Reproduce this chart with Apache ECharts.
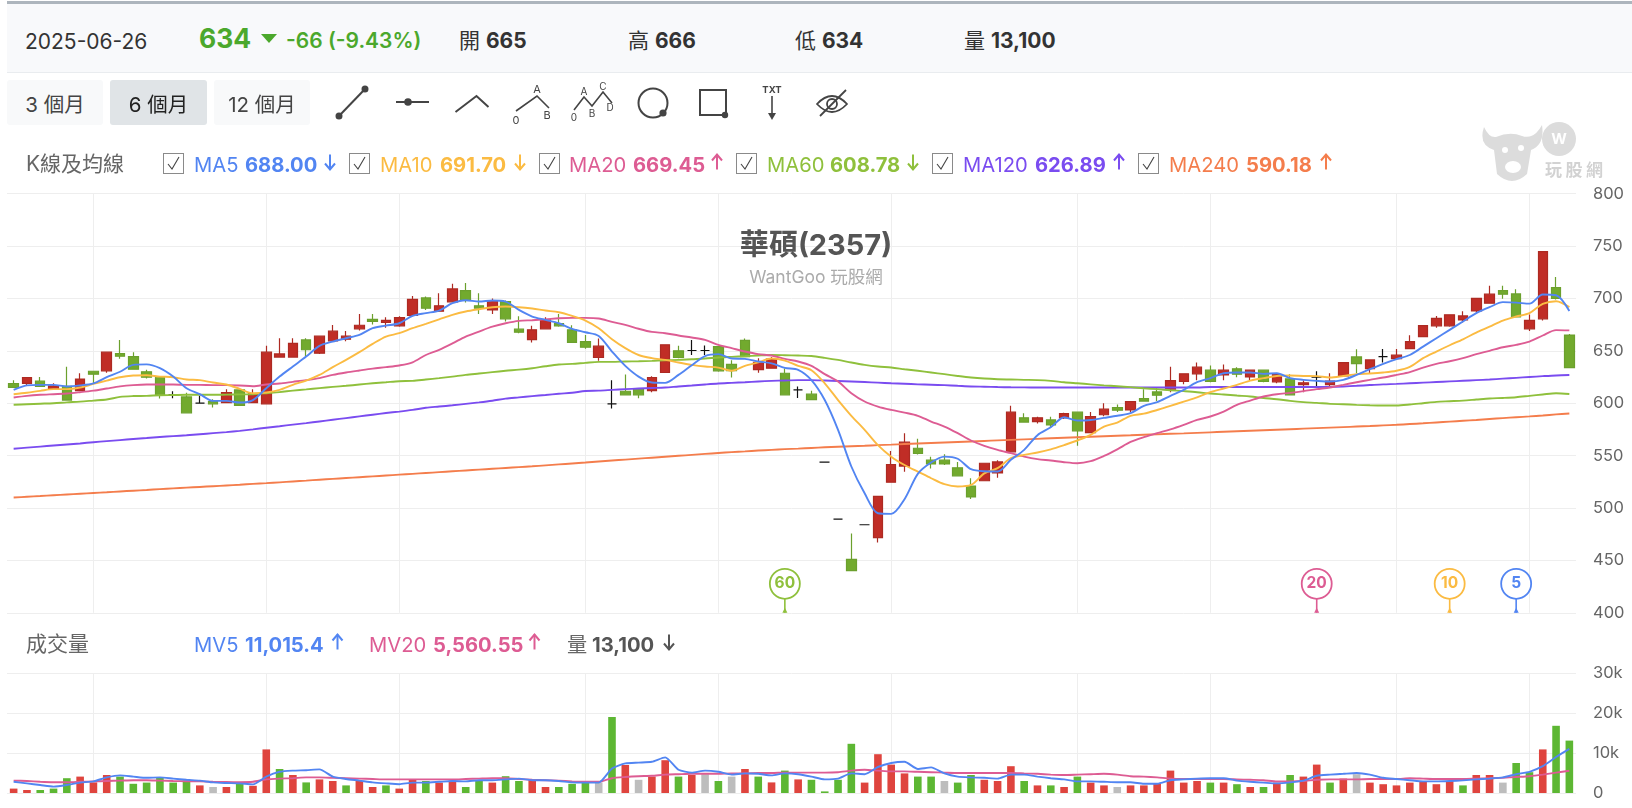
<!DOCTYPE html>
<html lang="zh-Hant">
<head>
<meta charset="utf-8">
<title>華碩(2357) K線</title>
<script src="https://cdn.jsdelivr.net/npm/echarts@6/dist/echarts.min.js"></script>
<style>
  html, body { margin: 0; padding: 0; background: #fff; width: 1632px; height: 808px; overflow: hidden; }
  body, text { font-family: Inter, "Noto Sans CJK TC", sans-serif; }
  #chart { position: absolute; left: 0; top: 0; width: 1632px; height: 808px; }
  .topbar { position: absolute; left: 7px; right: 0; top: 1px; height: 3px; background: #adb5bd; }
  .panel { position: absolute; left: 7px; right: 0; top: 4px; height: 68px; background: #f8f9fb; border-bottom: 1px solid #e9ecef; }
  .t { position: absolute; white-space: nowrap; line-height: 1; transform: translateY(-50%); }
  .btn { position: absolute; top: 80px; height: 45px; line-height: 50px; text-align: center; background: #f8f9fa; border-radius: 3px; font-size: 20.5px; color: #444; }
  .btn.on { background: #e0e4e7; color: #222; }
  .box { position: absolute; top: 153px; width: 19px; height: 19px; border: 1px solid #8a8a8a; background: #fff; }
  b { font-weight: 700; }
  svg { position: absolute; overflow: visible; left: 0; top: 0; }
</style>
</head>
<body>
<div id="chart"></div>
<div class="topbar"></div>
<div class="panel"></div>

<div class="t" style="left:25px;top:41px;font-size:21px;color:#333">2025-06-26</div>
<div class="t" style="left:199px;top:38px;font-size:26.5px;font-weight:700;color:#4ba82c">634</div>
<div class="t" style="left:286px;top:40px;font-size:21px;font-weight:600;color:#4ba82c">-66 (-9.43%)</div>
<div class="t" style="left:459px;top:40px;font-size:21px;color:#333">開 <b>665</b></div>
<div class="t" style="left:628px;top:40px;font-size:21px;color:#333">高 <b>666</b></div>
<div class="t" style="left:795px;top:40px;font-size:21px;color:#333">低 <b>634</b></div>
<div class="t" style="left:964px;top:40px;font-size:21px;color:#333">量 <b>13,100</b></div>

<div class="btn" style="left:7px;width:96px">3 個月</div>
<div class="btn on" style="left:110px;width:97px">6 個月</div>
<div class="btn" style="left:214px;width:96px">12 個月</div>

<svg width="1632" height="200" fill="none" stroke="#444" stroke-width="2">
  <!-- triangle beside the change figure -->
  <polygon points="261,34 277,34 269,43" fill="#4ba82c" stroke="none"/>
  <!-- drawing tools -->
  <line x1="339" y1="116" x2="365" y2="89"/><circle cx="339" cy="116" r="2.5" fill="#444"/><circle cx="365" cy="89" r="2.5" fill="#444"/>
  <line x1="396" y1="102" x2="429" y2="102"/><circle cx="408" cy="102" r="2.8" fill="#444"/>
  <polyline points="455.5,112 476.5,96 488.5,107"/>
  <polyline points="516,111 537,96 549,108" stroke-width="1.6"/>
  <polyline points="574,110 584,97 592,106 603,92 612,103" stroke-width="1.6"/>
  <circle cx="653" cy="103" r="14.5"/><circle cx="663" cy="113" r="2.6" fill="#444"/>
  <rect x="700" y="90" width="26" height="25"/><circle cx="725" cy="115" r="2.2" fill="#444"/>
  <line x1="772" y1="96" x2="772" y2="118" stroke-width="1.6"/><polygon points="768,113 776,113 772,120" fill="#444" stroke="none"/>
  <!-- hide-all eye -->
  <path d="M817 104 Q832 88 847 104 Q832 120 817 104Z" stroke-width="1.8"/>
  <circle cx="832" cy="104" r="5" stroke-width="1.8"/>
  <line x1="820" y1="116" x2="846" y2="90" stroke-width="1.8"/>
  <g fill="#444" stroke="none" font-size="11" font-family="Inter, sans-serif">
    <text x="537" y="93" text-anchor="middle" font-size="11">A</text>
    <text x="516" y="124" text-anchor="middle">0</text>
    <text x="547" y="119" text-anchor="middle">B</text>
    <text x="574" y="121" font-size="10" text-anchor="middle">0</text>
    <text x="584" y="95" font-size="10" text-anchor="middle">A</text>
    <text x="592" y="117" font-size="10" text-anchor="middle">B</text>
    <text x="603" y="90" font-size="10" text-anchor="middle">C</text>
    <text x="610" y="111" font-size="10" text-anchor="middle">D</text>
    <text x="772" y="93" font-size="9.5" font-weight="700" text-anchor="middle">TXT</text>
  </g>
  <!-- WantGoo watermark -->
  <g fill="#dcdcdc" stroke="none">
    <circle cx="1559" cy="139" r="17"/>
    <path d="M1484 127 Q1478 145 1494 150 L1497 174 Q1512 188 1527 174 L1531 150 Q1545 145 1542 125 Q1534 140 1522 136 Q1510 131 1496 137 Q1489 138 1484 127Z"/>
  </g>
  <g fill="#fff" stroke="none">
    <circle cx="1505" cy="150" r="3"/><circle cx="1521" cy="148" r="3"/>
    <ellipse cx="1513" cy="167" rx="8" ry="6"/>
  </g>
  <text x="1559" y="144" fill="#fff" stroke="none" font-size="15" font-weight="700" text-anchor="middle">W</text>
</svg>
<div class="t" style="left:1545px;top:170px;font-size:17px;letter-spacing:3.5px;color:#d2d2d2;font-weight:700">玩股網</div>

<div class="t" style="left:26px;top:163px;font-size:21px;color:#666">K線及均線</div>
<div id="maLegend"></div>
<div class="t" style="left:26px;top:643px;font-size:21px;color:#666">成交量</div>
<div id="volLegend"></div>

<script>
// Trading-day columns and the bars where a vertical rule is drawn.
const dayIndex = Array.from({ length: 118 }, (_, i) => i);
const ruleDays = [6, 19, 29, 43, 53, 66, 80, 90, 104, 114];

const opens = [618.8,619,621,613.7,616,612,630.5,630.9,647.4,644.5,
  630,624.8,608,606,600,601.6,600.6,612.7,600.6,599.4,
  644,644,660.4,647.7,659.5,661,671,680,677,673.8,
  683.7,700.5,687.8,696.7,707.5,693,689,697,670.6,660.7,
  671,676,670,658.8,643.6,599.4,611.4,613.4,612,629.3,
  650,650.3,650.3,654,637,660,632,633.4,628.6,612.7,
  608.6,543.7,489.3,451,484,471.8,524.6,540,557,545.6,
  545.6,538.3,521,526,533.5,553.6,586,582.5,584,586,
  591.4,572,589,595.9,593.6,604.5,610.8,613.4,620.7,628,
  631.5,627,632.8,625,631.5,620.4,623.2,617.8,624.8,617.8,
  626,644.2,633,644.5,642.6,652,663.6,673.8,673.8,679.5,
  688,695.4,707.5,704.3,671,680.5,710.4,665];
const closes = [615,624.5,616,616.5,603,623,627.7,648.7,644.8,632.4,
  624.8,607.6,608,590.8,600,599.4,610,598,609,648.7,
  647,657,651,664,668.7,664,674.4,678,679,681.7,
  699,690.6,693,709,698,690.6,698,680.5,667.7,670,
  679.5,673.8,658,653.4,654.4,599.4,608,608,624.5,655.7,
  643.6,650.3,650.3,630.9,631,644.5,639,642,608,612.7,
  603.5,543.7,489.3,440.3,484,511,541.5,562.8,552,542,
  542,530.7,510.6,542.7,544,591.4,582,586,579.3,590,
  573.6,587.3,594.3,593.3,601.6,602,607.6,621.6,628,634.4,
  620.7,631.5,627.7,631.5,620.7,627.4,608,619.4,624.8,621,
  638.8,637.8,641.3,644.5,645.8,658.8,674,681,684.3,683.3,
  700,704,704,682.4,679,744.7,700,634];
const highs = [622,624.5,625,619,634.7,628.6,631,649,660.4,648.7,
  631.8,625,611.5,610,607,603.8,613.4,613,613.4,654.7,
  662,662,662,664.5,674.7,669,685,685,682,683,
  702.4,701.8,705,713.9,714.8,705,700,698,683,673.8,
  682,685,674.4,665,661.7,622,627.4,613.4,625.8,656,
  654.7,660.4,655,654,641,661.7,643,644,633,616,
  611.8,543.7,489.3,475.6,484,511,554.5,571.4,566,548.8,
  551.3,544,528.4,543,545.6,597.5,590.5,587,587,591,
  592,591.7,600,598.7,601.6,613.4,615.3,634.7,628.6,638.8,
  636,637,634.4,632,632,628,627.7,622,630.5,628.6,
  639,651.5,642,651.8,651.8,664.9,674.2,683.3,684.6,687.8,
  700,712,712,708.8,684.6,745,720.5,666];
const lows = [615,617,616,613,603,612,619,629,642.3,632,
  623.5,604.5,604.8,590.8,600,596,600,598,600,599,
  644,644,645,647,659,659,669.3,675,672,673,
  683,689,687,696,696,685,685,678,666.8,658,
  671,673,658,652,640.4,595,608,604.8,610.5,629,
  643,646,646,630,624.5,644,629,633,608,605,
  603,543.7,489.3,440,484,467,524,534.5,551,537.7,
  541,530,508.7,526,528.8,553,582,580.6,576.8,585,
  559.3,572,587.6,591.7,591.4,602,602,610.5,618,622,
  620,622,624.8,622,620,619,607.5,610.5,615,616,
  626,628.6,628.6,638.8,642,652,663,671.9,673,677,
  686,695,699.6,682,669,679,699,634];

const ma5 = [612.7,617,617.5,617.5,616,617,619,624.8,630,636.6,
  637,633.4,625.4,614.3,608.6,602.2,602.2,600.6,603,614.3,
  625.4,635,644.5,654.7,658.8,662,665.2,671.6,674,676.3,
  683.3,686,688.4,695.4,698.3,697,698,697,689,682.7,
  679.5,676.3,671,667.7,664.2,649.3,635.6,625.4,619.7,619.4,
  627,636.3,645,646.8,642.6,642.3,639.8,638,633.7,631.8,
  622,603,574.6,539.6,514,495,494.4,508.4,532.6,543.4,
  549,547,537,535,534.8,546,555.5,569.5,577,586.6,
  583.5,584,586,588,590.5,597.5,601,607,612.7,620,
  623.9,628.6,629.3,629.3,628,628.6,623.9,622.3,621.3,620.7,
  622.3,627,632.4,637.5,642,646,654,662,670,678,
  685.9,691.6,696.4,696,695,703.7,703,688];
const ma10 = [608.6,610,611.8,613.4,613.4,615,618.4,621.6,624.8,626.4,
  626.7,625.4,624.8,622.6,622,619.7,617.8,613.7,609.5,610.2,
  612.7,617.5,621.6,627,634.4,641.3,648.7,656.6,663.6,666.8,
  671.6,675.7,680,684.3,687.5,689.7,691.6,692.2,691.6,690.3,
  688.4,686.8,683.3,678.9,671.6,661,652.5,646,643,641.3,
  638.8,636.6,635,634,631,635.6,639,642.6,640.7,635.6,
  631.5,619,603,588,574.6,560,549,541,534.8,528.4,
  522.7,520.5,522,533,538,547.5,550.7,553,556,560,
  564.4,569.8,577.7,581.5,588,590,593.5,597.5,601.5,605.5,
  610.5,614,617.5,621.6,623.9,626,626.4,626,625.8,624.5,
  626,627.7,628.3,629.3,631,634.7,643,649.3,655.3,661,
  667.4,673,678.9,682.7,685.9,694.8,697.3,691.7];
const ma20 = [605.4,607,608,608.6,609.2,610.5,612,614,616,617.2,
  617.8,617.8,617.8,617.5,617.5,617.2,617.2,616.9,616.2,617.8,
  618.8,620.4,622,623.9,627,629.3,631.2,633,634.4,636,
  639,646,650.9,657,663.6,668.4,673,676.3,678.6,679.2,
  680,681,681.4,681.4,680.8,677.6,674.7,671,668,666.8,
  664.6,662.7,660.4,655.7,652.5,649.3,646.8,645.5,642.3,639.8,
  635.6,627.7,620.7,609.5,601.6,596.8,593.6,591,588,582.5,
  577.7,571.4,564.4,559.3,555.5,552.3,549,546.6,545.3,543.7,
  542.7,544.7,549.7,556,563,567.6,571.4,575,579.3,584,
  587.3,592,598.4,602.5,606.4,608.6,609.9,611.5,613.4,615,
  617.5,620,622.3,624.5,627,629.6,634,637.5,640,643,
  646.8,650,653.4,655.7,658.8,664.6,669.7,669.45];
const ma60 = [598.5,599,599.5,600,600.8,601.5,602.5,603.5,606,606.8,
  607,607.6,607.8,608,608,608,608.2,608.4,608.6,609.5,
  610.6,612,613.2,614.4,615.6,616.6,617.8,619,620,621,
  621.3,622.6,623.9,625.4,627,628.3,629.6,630.9,632,633.4,
  635.3,636.9,637.5,638.5,639.4,639.4,639.8,640,640.4,641,
  641.3,642,642.6,643.6,644.2,644.8,645.5,646,645.8,645.5,
  645,643.3,641.3,638.8,636.6,635,634,632.4,630.9,629.3,
  627.7,626,624.5,623.5,622.9,622.6,622.3,622,621.3,620,
  619,618,617,616.2,615.3,614.3,613.4,612.4,611.5,610.5,
  609.2,608.3,607.3,606.4,605,603.8,602.2,601,600.3,599.4,
  599,598.4,598,597.8,597.8,598.7,600,601.3,601.9,602.5,
  603.5,604.5,605,605.7,607,608.3,609.5,608.78];
const ma120 = [556.5,557.6,558.6,559.6,560.6,561.6,562.8,563.8,564.8,565.8,
  566.8,567.8,568.6,569.4,570.4,571.4,572.4,573.6,575,576.6,
  578,579.6,581,582.6,584.2,585.8,587.4,589,590.6,592,
  593.6,595.6,596.8,598,599.4,600.8,602.4,604.4,605.6,606.8,
  607.8,609,610,611.6,612,612.7,613.4,614,614.5,615,
  616,616.9,617.9,618.8,619.4,620,620.7,621.3,621.7,622,
  622,621.6,621.2,620.7,620.2,619.6,619,618.6,618,617.6,
  617.2,616.6,616,615.7,615.4,615.2,615.1,615,615,615,
  615,615,615,615,615,615,615,615,615,615,
  615.4,615.4,615.5,615.5,615.5,615.5,615.5,615.5,615.5,615.6,
  616,616.6,617.3,618,618.4,619,619.6,620.2,620.8,621.4,
  622,622.6,623.4,624.2,625,625.8,626.5,626.89];
const ma240 = [510,510.7,511.4,512.2,512.9,513.6,514.3,515,515.8,516.5,
  517.2,518,518.7,519.4,520.1,520.8,521.5,522.2,523,523.7,
  524.5,525.3,526.1,527,527.8,528.6,529.4,530.2,531,531.8,
  532.6,533.4,534.2,535,535.8,536.6,537.4,538.2,539,539.8,
  540.7,541.6,542.5,543.4,544.4,545.3,546.2,547.1,548,548.9,
  549.8,550.7,551.6,552.5,553.3,554,554.8,555.5,556.2,556.7,
  557.3,557.9,558.4,558.9,559.4,560,560.5,561,561.5,562,
  562.5,563,563.5,564,564.5,565,565.5,566,566.5,567,
  567.5,568,568.5,569,569.4,569.9,570.3,570.8,571.2,571.7,
  572.2,572.7,573.2,573.7,574.2,574.7,575.2,575.7,576.2,576.7,
  577.2,577.7,578.2,578.8,579.4,580.1,580.8,581.6,582.4,583.2,
  584,584.9,585.8,586.6,587.4,588.3,589.3,590.18];

const volumes = [1100,750,750,1100,3700,4100,2650,4500,4100,2300,
  2600,3900,2600,3100,1900,1500,1500,2400,1800,10900,
  6000,4500,2650,3400,3000,1900,3000,1500,1900,1100,
  3400,3000,2600,3100,1500,3000,2600,4200,3000,3400,
  1500,1500,2300,2650,2650,19000,7000,3300,4100,8200,
  4100,4500,4700,3000,4100,6000,4100,2650,5600,3400,
  3300,400,3300,12300,2600,9700,7100,4900,4100,4100,
  3000,2600,4500,3300,3000,6700,3000,1900,1900,1500,
  4100,2600,1900,1500,1900,1900,2400,5600,2600,3000,
  2600,2600,2200,1500,1500,2600,4500,4100,7100,2600,
  3600,4700,2600,2200,1900,2600,3000,2200,3000,1900,
  4500,4500,2600,7500,5200,10900,16800,13100];
// r = up day, g = down day, n = unchanged
const volumeTones = ('rrgggrrrgggggg' + 'rnrgrrgrgrrgrrgrrgrrggrggrrg' +
  'ggngrnrrgrngnrgrgrgggg' + 'rrrrggnggrrrgrgrgrrnrrrrrr' +
  'grgrgrgrrgrnrrrrrrrgrrnggrgg').split('');
const mv5 = [2800,2400,2000,1600,2000,2600,2900,3900,4400,4100,
  3800,3900,3600,3300,3100,2650,2500,2400,2150,4100,
  5300,5600,5700,5900,4100,3500,3100,2650,2400,2200,
  2600,2600,2800,3000,2900,3200,3200,3400,3600,3200,
  3200,3000,2650,2600,2600,6100,7400,7600,7800,8900,
  5800,5100,5600,5300,4600,4900,4800,4400,4900,4700,
  4100,3400,3600,4900,4700,6500,7500,7800,6000,6400,
  4900,4100,3900,3800,3600,4600,4600,4100,3700,3400,
  2900,2900,2800,2700,2700,2300,2300,3200,3400,3600,
  3700,3700,3100,2800,2600,2400,2650,3100,4300,4600,
  4800,5000,4600,3800,3500,3200,2900,2900,3000,3150,
  3400,3600,3900,4700,5300,6700,9000,11015.4];
const mv20 = [3100,3000,2800,2700,2700,2800,2900,3000,3100,3200,
  3200,3100,3000,2950,2900,2800,2750,2700,2800,3400,
  3600,3700,3900,3900,3800,3700,3600,3500,3400,3400,
  3400,3400,3400,3400,3500,3600,3700,3700,3500,3300,
  3200,3100,2900,2800,2800,3700,4000,4200,4300,4600,
  4700,4800,4800,4800,4900,4900,5000,5000,5100,5100,
  5100,5100,5200,5600,5800,5600,5400,5400,5300,5200,
  5100,5000,5000,5000,5000,5000,4900,4800,4600,4500,
  4600,4700,4800,4600,4200,4100,3900,3600,3500,3500,
  3500,3500,3400,3300,3200,2900,2900,3000,3300,3400,
  3400,3400,3500,3500,3500,3700,3600,3500,3500,3500,
  3600,3700,3800,4000,4200,4600,5100,5560.55];

// Round pins that mark where each average's window starts.
const pinBars = [58, 98, 108, 113];
const pinLabels = ['60', '20', '10', '5'];

const BLUE = '#5285f2', AMBER = '#fbbb42', PINK = '#dd5c93', LEAF = '#8fc03c', VIOLET = '#7a4cf0', CORAL = '#f47d4c';
const pinColors = [LEAF, PINK, AMBER, BLUE];
const toneColors = { r: '#df443e', g: '#5db733', n: '#bdbdbd' };

// Legend rows: the figures always come from the last point of each series.
const last = a => a[a.length - 1];
const legendSpot = (x, txt, size, color, weight) =>
  `<div class="t" style="left:${x}px;top:${size.top}px;font-size:${size.fs}px;color:${color};font-weight:${weight}">${txt}</div>`;
// Trend arrow with a narrow head, centred on cx.
const trendArrow = (cx, cy, up, color) => {
  const a = up ? cy - 7.5 : cy + 7.5, b = up ? cy + 7.5 : cy - 7.5, h = up ? a + 6 : a - 6;
  return `<svg width="1" height="1" fill="none" stroke="${color}" stroke-width="2"><line x1="${cx}" y1="${a}" x2="${cx}" y2="${b}"/><polyline points="${cx - 5},${h} ${cx},${a} ${cx + 5},${h}"/></svg>`;
};
const maRow = [
  { box: 163, x: 194, vx: 245, ax: 330, name: 'MA5',   arr: ma5,   up: false, c: BLUE },
  { box: 349, x: 380, vx: 440, ax: 520, name: 'MA10',  arr: ma10,  up: false, c: AMBER },
  { box: 539, x: 569, vx: 633, ax: 717, name: 'MA20',  arr: ma20,  up: true,  c: PINK },
  { box: 736, x: 767, vx: 830, ax: 913, name: 'MA60',  arr: ma60,  up: false, c: LEAF },
  { box: 932, x: 963, vx: 1035, ax: 1119, name: 'MA120', arr: ma120, up: true,  c: VIOLET },
  { box: 1138, x: 1169, vx: 1246, ax: 1326, name: 'MA240', arr: ma240, up: true,  c: CORAL }
];
const maSize = { top: 165, fs: 20.2 };
document.getElementById('maLegend').innerHTML = maRow.map(m =>
  `<div class="box" style="left:${m.box}px"><svg width="19" height="19" fill="none" stroke="#444" stroke-width="1.1"><polyline points="4,10 8,15 15,3"/></svg></div>` +
  legendSpot(m.x, m.name, maSize, m.c, 400) +
  legendSpot(m.vx, last(m.arr).toFixed(2), maSize, m.c, 700) +
  trendArrow(m.ax, 162, m.up, m.c)
).join('');
const volSize = { top: 645, fs: 20.2 };
const fmtVol = (v, d) => v.toLocaleString('en-US', { minimumFractionDigits: d, maximumFractionDigits: d });
document.getElementById('volLegend').innerHTML =
  legendSpot(194, 'MV5', volSize, BLUE, 400) + legendSpot(245, fmtVol(last(mv5), 1), volSize, BLUE, 700) + trendArrow(337.5, 642, true, BLUE) +
  legendSpot(369, 'MV20', volSize, PINK, 400) + legendSpot(433, fmtVol(last(mv20), 2), volSize, PINK, 700) + trendArrow(534.5, 642, true, PINK) +
  legendSpot(567, '量', volSize, '#666', 400) + legendSpot(592, fmtVol(last(volumes), 0), volSize, '#555', 700) + trendArrow(669, 642, false, '#555');

const chart = echarts.init(document.getElementById('chart'), null, { renderer: 'canvas' });

const maLine = (name, data, color) => ({
  name, type: 'line', data, xAxisIndex: 0, yAxisIndex: 0,
  showSymbol: false, smooth: 0.3, silent: true, z: 5,
  lineStyle: { color, width: 1.9 }
});
const mvLine = (name, data, color) => ({
  name, type: 'line', data, xAxisIndex: 1, yAxisIndex: 1,
  showSymbol: false, smooth: 0.2, silent: true, z: 5,
  lineStyle: { color, width: 1.9 }
});
const vRule = { show: true, interval: i => ruleDays.includes(i), alignWithLabel: true, lineStyle: { color: '#eee', width: 1 } };
const hRule = { show: true, lineStyle: { color: '#eee', width: 1 } };
const axisText = { show: true, inside: false, margin: 17, color: '#666', fontSize: 16.5, fontFamily: 'Inter, sans-serif', align: 'left' };

chart.setOption({
  animation: false,
  title: {
    text: '華碩(2357)', subtext: 'WantGoo 玩股網',
    left: 811, top: 227, textAlign: 'center', itemGap: 8,
    textStyle: { fontSize: 29, fontWeight: 700, color: '#555', fontFamily: 'Inter, "Noto Sans CJK TC", sans-serif' },
    subtextStyle: { fontSize: 17.5, color: '#ababab', fontFamily: 'Inter, "Noto Sans CJK TC", sans-serif' }
  },
  grid: [
    { left: 7, right: 56, top: 193.6, height: 419.2 },
    { left: 7, right: 56, top: 673, height: 120 }
  ],
  xAxis: [
    { type: 'category', gridIndex: 0, data: dayIndex, axisLine: { show: false }, axisTick: { show: false, alignWithLabel: true }, axisLabel: { show: false }, splitLine: vRule },
    { type: 'category', gridIndex: 1, data: dayIndex, axisLine: { show: false }, axisTick: { show: false, alignWithLabel: true }, axisLabel: { show: false }, splitLine: vRule }
  ],
  yAxis: [
    { type: 'value', gridIndex: 0, position: 'right', min: 400, max: 800, interval: 50, axisLine: { show: false }, axisTick: { show: false }, axisLabel: axisText, splitLine: hRule },
    { type: 'value', gridIndex: 1, position: 'right', min: 0, max: 30000, interval: 10000, axisLine: { show: false }, axisTick: { show: false },
      axisLabel: { ...axisText, formatter: v => v === 0 ? '0' : (v / 1000) + 'k' }, splitLine: hRule }
  ],
  series: [
    {
      type: 'candlestick', xAxisIndex: 0, yAxisIndex: 0, barWidth: 10, silent: true, z: 3,
      data: dayIndex.map(i => [opens[i], closes[i], lows[i], highs[i]]),
      itemStyle: {
        color: '#c02d26', color0: '#72aa2e', borderColor: '#ad2a22', borderColor0: '#6ba02d',
        borderColorDoji: '#111', borderWidth: 1.2
      }
    },
    maLine('MA240', ma240, CORAL),
    maLine('MA120', ma120, VIOLET),
    maLine('MA60', ma60, LEAF),
    maLine('MA20', ma20, PINK),
    maLine('MA10', ma10, AMBER),
    maLine('MA5', ma5, BLUE),
    {
      type: 'custom', xAxisIndex: 0, yAxisIndex: 0, silent: true, z: 6, clip: false,
      data: pinBars.map((b, i) => [b, 400, i]),
      renderItem: (params, api) => {
        const p = api.coord([api.value(0), api.value(1)]);
        const i = api.value(2), c = pinColors[i], cy = p[1] - 29;
        return {
          type: 'group',
          children: [
            { type: 'line', shape: { x1: p[0], y1: cy + 15, x2: p[0], y2: p[1] }, style: { stroke: c, lineWidth: 1.6 } },
            { type: 'polygon', shape: { points: [[p[0] - 2.5, p[1]], [p[0] + 2.5, p[1]], [p[0], p[1] - 5]] }, style: { fill: c } },
            { type: 'circle', shape: { cx: p[0], cy, r: 15 }, style: { fill: '#fff', stroke: c, lineWidth: 1.8 } },
            { type: 'text', style: { text: pinLabels[i], x: p[0], y: cy, fill: c, align: 'center', verticalAlign: 'middle', font: '700 15.5px Inter, sans-serif' } }
          ]
        };
      }
    },
    {
      type: 'bar', xAxisIndex: 1, yAxisIndex: 1, barWidth: 7.6, silent: true, z: 3,
      data: dayIndex.map(i => ({ value: volumes[i], itemStyle: { color: toneColors[volumeTones[i]] } }))
    },
    mvLine('MV20', mv20, PINK),
    mvLine('MV5', mv5, BLUE)
  ]
});
</script>
</body>
</html>
